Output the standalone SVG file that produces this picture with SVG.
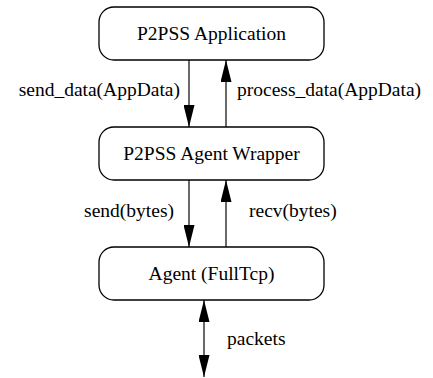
<svg xmlns="http://www.w3.org/2000/svg" width="433" height="378" viewBox="0 0 433 378">
<style>
.box{fill:#fff;stroke:#000;stroke-width:1.3}
.t{font-family:"Liberation Serif","Times New Roman",serif;font-size:19.5px;fill:#000}
.c{text-anchor:middle}
.e{text-anchor:end}
.ln{stroke:#444;stroke-width:1.6;fill:none}
</style>
<defs>
<marker id="ah" viewBox="0 0 11 22" refX="11" refY="11" markerWidth="22" markerHeight="11" markerUnits="userSpaceOnUse" orient="auto">
<path d="M0,0 L0,22 L11,11 Z" transform="rotate(0)" fill="#000"/>
</marker>
<marker id="a" viewBox="0 0 22 11" refX="22" refY="5.5" markerWidth="22" markerHeight="11" markerUnits="userSpaceOnUse" orient="auto-start-reverse">
<path d="M0,0 L22,5.5 L0,11 Z" fill="#000"/>
</marker>
</defs>
<g id="connectors">
<line class="ln" x1="189" y1="60" x2="189" y2="127" marker-end="url(#a)"/>
<line class="ln" x1="226" y1="127" x2="226" y2="60" marker-end="url(#a)"/>
<line class="ln" x1="189" y1="180" x2="189" y2="247" marker-end="url(#a)"/>
<line class="ln" x1="226" y1="247" x2="226" y2="180" marker-end="url(#a)"/>
<line class="ln" x1="204" y1="300" x2="204" y2="377" marker-start="url(#a)" marker-end="url(#a)"/>
<text class="t e" x="180" y="96">send_data(AppData)</text>
<text class="t" x="237" y="96">process_data(AppData)</text>
<text class="t e" x="174" y="217">send(bytes)</text>
<text class="t" x="249" y="217">recv(bytes)</text>
<text class="t" x="227" y="345">packets</text>
</g>
<g id="app">
<rect class="box" x="99" y="7" width="225" height="53" rx="15"/>
<text class="t c" x="211.5" y="40">P2PSS Application</text>
</g>
<g id="wrapper">
<rect class="box" x="99" y="127" width="225" height="53" rx="15"/>
<text class="t c" x="211.5" y="160">P2PSS Agent Wrapper</text>
</g>
<g id="agent">
<rect class="box" x="99" y="247" width="225" height="53" rx="15"/>
<text class="t c" x="211.5" y="280">Agent (FullTcp)</text>
</g>
</svg>
